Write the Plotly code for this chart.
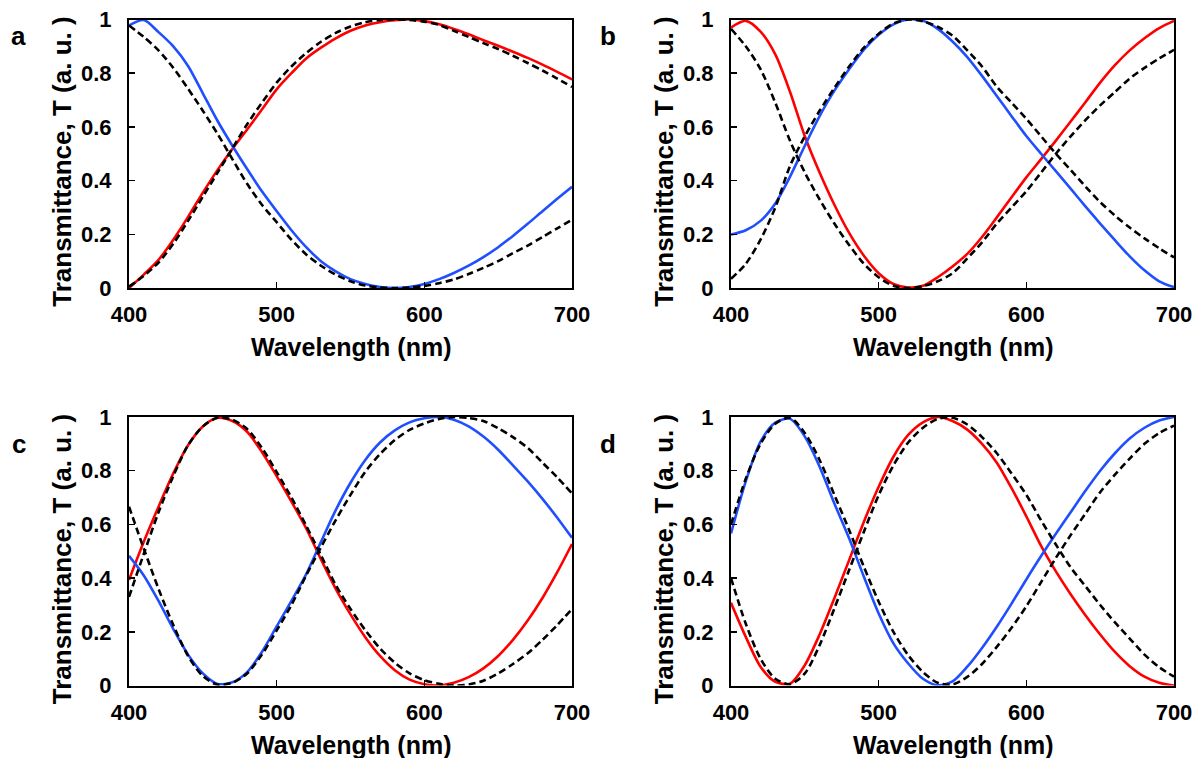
import plotly.graph_objects as go

# ---------------- data ----------------
wavelength = [400, 410, 420, 430, 440, 450, 460, 470, 480, 490, 500, 510, 520, 530, 540,
              550, 560, 570, 580, 590, 600, 610, 620, 630, 640, 650, 660, 670, 680, 690, 700]

# panel a
a_blue = [0.978, 0.998, 0.953, 0.900, 0.827, 0.725, 0.622, 0.530, 0.443, 0.360, 0.286, 0.215, 0.152, 0.100, 0.062,
          0.033, 0.015, 0.004, 0.000, 0.004, 0.015, 0.033, 0.056, 0.083, 0.115, 0.152, 0.194, 0.239, 0.286, 0.332, 0.377]
a_red = [0.000, 0.050, 0.105, 0.180, 0.265, 0.355, 0.440, 0.518, 0.590, 0.665, 0.740, 0.800, 0.855, 0.895, 0.930,
         0.958, 0.978, 0.990, 0.997, 1.000, 0.994, 0.982, 0.965, 0.945, 0.923, 0.902, 0.880, 0.857, 0.832, 0.805, 0.777]
a_fit_blue = [0.978, 0.935, 0.885, 0.820, 0.742, 0.660, 0.574, 0.480, 0.388, 0.310, 0.245, 0.180, 0.125, 0.083, 0.050,
              0.025, 0.009, 0.002, 0.000, 0.002, 0.008, 0.018, 0.032, 0.052, 0.075, 0.100, 0.130, 0.158, 0.190, 0.222, 0.254]
a_fit_red = [0.005, 0.045, 0.095, 0.165, 0.250, 0.340, 0.430, 0.520, 0.610, 0.690, 0.765, 0.825, 0.875, 0.917, 0.950,
             0.974, 0.990, 0.998, 1.000, 0.998, 0.992, 0.980, 0.958, 0.935, 0.912, 0.890, 0.865, 0.838, 0.810, 0.780, 0.749]

# panel b
b_red = [0.970, 0.995, 0.955, 0.870, 0.730, 0.565, 0.430, 0.310, 0.205, 0.120, 0.055, 0.015, 0.002, 0.008, 0.040,
         0.080, 0.127, 0.190, 0.263, 0.338, 0.412, 0.480, 0.549, 0.620, 0.692, 0.765, 0.830, 0.885, 0.930, 0.968, 0.995]
b_blue = [0.199, 0.215, 0.250, 0.315, 0.415, 0.530, 0.640, 0.735, 0.815, 0.888, 0.943, 0.982, 1.000, 0.995, 0.965,
          0.918, 0.860, 0.790, 0.715, 0.640, 0.566, 0.500, 0.435, 0.370, 0.304, 0.240, 0.178, 0.118, 0.066, 0.025, 0.003]
b_fit_red = [0.965, 0.900, 0.815, 0.690, 0.548, 0.430, 0.330, 0.240, 0.160, 0.090, 0.040, 0.008, 0.000, 0.007, 0.025,
             0.055, 0.110, 0.170, 0.240, 0.300, 0.360, 0.430, 0.500, 0.565, 0.625, 0.680, 0.730, 0.780, 0.820, 0.855, 0.887]
b_fit_blue = [0.034, 0.090, 0.180, 0.300, 0.455, 0.565, 0.660, 0.745, 0.825, 0.895, 0.947, 0.985, 1.000, 0.993, 0.973,
              0.940, 0.885, 0.825, 0.750, 0.690, 0.630, 0.565, 0.500, 0.440, 0.378, 0.320, 0.270, 0.225, 0.185, 0.148, 0.114]

# panel c
c_red = [0.393, 0.535, 0.666, 0.790, 0.895, 0.965, 0.997, 0.985, 0.945, 0.870, 0.780, 0.685, 0.585, 0.470, 0.360,
         0.265, 0.180, 0.110, 0.057, 0.022, 0.005, 0.000, 0.010, 0.031, 0.064, 0.110, 0.170, 0.242, 0.326, 0.422, 0.527]
c_blue = [0.483, 0.410, 0.315, 0.210, 0.115, 0.045, 0.006, 0.012, 0.050, 0.125, 0.220, 0.315, 0.415, 0.535, 0.653,
          0.755, 0.840, 0.905, 0.950, 0.980, 0.995, 1.000, 0.990, 0.965, 0.927, 0.878, 0.820, 0.760, 0.695, 0.625, 0.550]
c_fit_blue = [0.666, 0.510, 0.360, 0.225, 0.110, 0.035, 0.003, 0.010, 0.045, 0.115, 0.205, 0.300, 0.410, 0.515, 0.616,
              0.710, 0.796, 0.862, 0.914, 0.952, 0.976, 0.993, 1.000, 0.996, 0.985, 0.958, 0.925, 0.885, 0.830, 0.775, 0.715]
c_fit_red = [0.330, 0.490, 0.645, 0.780, 0.895, 0.965, 0.997, 0.990, 0.955, 0.885, 0.795, 0.700, 0.595, 0.485, 0.374,
             0.285, 0.206, 0.138, 0.085, 0.045, 0.020, 0.006, 0.000, 0.004, 0.018, 0.045, 0.080, 0.120, 0.170, 0.225, 0.285]

# panel d
d_blue = [0.566, 0.760, 0.908, 0.979, 0.993, 0.927, 0.815, 0.678, 0.548, 0.405, 0.268, 0.157, 0.082, 0.025, 0.001,
          0.015, 0.070, 0.140, 0.219, 0.305, 0.395, 0.482, 0.565, 0.645, 0.725, 0.800, 0.865, 0.920, 0.960, 0.987, 1.000]
d_red = [0.308, 0.181, 0.070, 0.014, 0.007, 0.076, 0.190, 0.325, 0.467, 0.610, 0.740, 0.852, 0.933, 0.980, 1.000,
         0.985, 0.953, 0.900, 0.830, 0.735, 0.630, 0.520, 0.425, 0.340, 0.262, 0.190, 0.125, 0.072, 0.033, 0.010, 0.000]
d_fit_blue = [0.600, 0.770, 0.900, 0.975, 0.997, 0.940, 0.840, 0.710, 0.579, 0.442, 0.312, 0.200, 0.113, 0.050, 0.010,
              0.004, 0.032, 0.080, 0.144, 0.215, 0.295, 0.385, 0.475, 0.560, 0.640, 0.720, 0.785, 0.845, 0.900, 0.940, 0.968]
d_fit_red = [0.400, 0.230, 0.100, 0.025, 0.005, 0.045, 0.150, 0.287, 0.430, 0.573, 0.709, 0.820, 0.905, 0.960, 0.993,
             0.997, 0.972, 0.925, 0.865, 0.790, 0.710, 0.615, 0.525, 0.440, 0.370, 0.300, 0.235, 0.175, 0.115, 0.068, 0.033]

panel_letters = ["a", "b", "c", "d"]
x_ticks = [400, 500, 600, 700]
y_ticks = [0, 0.2, 0.4, 0.6, 0.8, 1]
y_ticktext = ["0", "0.2", "0.4", "0.6", "0.8", "1"]
x_title = "Wavelength (nm)"
y_title = "Transmittance, T (a. u. )"

panels = [
    (a_red, a_blue, a_fit_red, a_fit_blue),
    (b_red, b_blue, b_fit_red, b_fit_blue),
    (c_red, c_blue, c_fit_red, c_fit_blue),
    (d_red, d_blue, d_fit_red, d_fit_blue),
]

# ---------------- layout geometry ----------------
W, H = 1194, 758
FONT = "Liberation Sans, Arial, sans-serif"
RED = "#ff0000"
BLUE = "#1f4fff"

# plot areas in window pixels: (left, right, top, bottom)
boxes = [
    (129, 572, 19.5, 288),
    (731, 1174, 19.5, 288),
    (129, 572, 417, 685.5),
    (731, 1174, 417, 685.5),
]
letter_pos = [(18.5, 36), (608, 36), (18.5, 444), (608, 444)]


def px_x(v):
    return v / W


def px_y(v):
    return 1 - v / H


fig = go.Figure()
layout_axes = {}
annotations = []

for i, ((red, blue, fit_red, fit_blue), (l, r, t, b)) in enumerate(zip(panels, boxes)):
    n = i + 1
    xa = "x" if n == 1 else f"x{n}"
    ya = "y" if n == 1 else f"y{n}"
    for ys, color, dash in [(red, RED, "solid"), (blue, BLUE, "solid"),
                            (fit_red, "black", "7px,4px"), (fit_blue, "black", "7px,4px")]:
        fig.add_trace(go.Scatter(
            x=wavelength, y=ys, mode="lines", xaxis=xa, yaxis=ya,
            line=dict(color=color, width=2.6, dash=dash, shape="spline", smoothing=0.8),
            showlegend=False, hoverinfo="skip"))

    xkey = "xaxis" if n == 1 else f"xaxis{n}"
    ykey = "yaxis" if n == 1 else f"yaxis{n}"
    layout_axes[xkey] = dict(
        domain=[px_x(l), px_x(r)], anchor=ya, range=[400, 700], tickvals=x_ticks,
        ticktext=[str(v) for v in x_ticks], ticks="inside", ticklen=6, tickwidth=1.5,
        tickcolor="black", showline=True, linecolor="black", linewidth=2, mirror=True,
        showgrid=False, zeroline=False, ticklabelstandoff=6, automargin=False,
        ticklabeloverflow="allow", fixedrange=True,
        tickfont=dict(family=FONT, size=22, color="black", weight="bold"))
    layout_axes[ykey] = dict(
        domain=[px_y(b), px_y(t)], anchor=xa, range=[0, 1], tickvals=y_ticks, ticktext=y_ticktext,
        ticks="inside", ticklen=6, tickwidth=1.5, tickcolor="black",
        showline=True, linecolor="black", linewidth=2, mirror=True,
        showgrid=False, zeroline=False, ticklabelstandoff=11, automargin=False,
        ticklabeloverflow="allow", fixedrange=True,
        tickfont=dict(family=FONT, size=22, color="black", weight="bold"))

    cx = (l + r) / 2
    annotations.append(dict(
        text=x_title, x=px_x(cx), y=px_y(b + 59), xref="paper", yref="paper",
        xanchor="center", yanchor="middle", showarrow=False,
        font=dict(family=FONT, size=25, color="black", weight="bold")))
    annotations.append(dict(
        text=y_title, x=px_x(l - 67), y=px_y((t + b) / 2 + 8), xref="paper", yref="paper",
        xanchor="center", yanchor="middle", showarrow=False, textangle=-90,
        font=dict(family=FONT, size=26, color="black", weight="bold")))
    lx, ly = letter_pos[i]
    annotations.append(dict(
        text=panel_letters[i], x=px_x(lx), y=px_y(ly), xref="paper", yref="paper",
        xanchor="center", yanchor="middle", showarrow=False,
        font=dict(family=FONT, size=26, color="black", weight="bold")))

fig.update_layout(
    width=W, height=H, margin=dict(l=0, r=0, t=0, b=0, autoexpand=False),
    paper_bgcolor="white", plot_bgcolor="white", hovermode=False,
    annotations=annotations, **layout_axes)

fig.write_html("out.html", config={"displayModeBar": False, "staticPlot": True},
               post_script="document.body.style.margin='0';document.body.style.overflow='hidden';")
